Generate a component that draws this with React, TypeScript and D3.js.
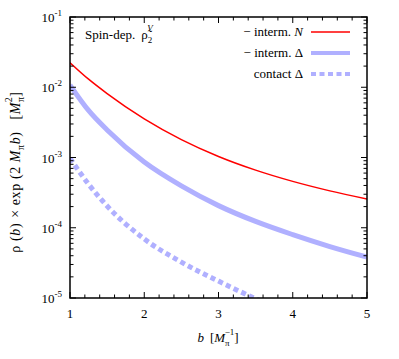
import React from "react";
import * as d3 from "d3";

const bN = [1, 1.25, 1.5, 2, 2.5, 3, 3.5, 4, 4.5, 5];
const interN = [0.02239, 0.01303, 0.008128, 0.003548, 0.001799, 0.001035, 0.000661, 0.000457, 0.000335, 0.000257];

const bD = [1, 1.25, 1.5, 2, 2.5, 3, 3.5, 4, 4.5, 5];
const interD = [0.01076, 0.004677, 0.002466, 0.000861, 0.000394, 0.0002065, 0.000123, 0.0000798, 0.000054, 0.0000382];

const bC = [1, 1.25, 1.5, 2, 2.5, 3, 3.5, 4];
const contactD = [0.000977, 0.000417, 0.000204, 0.0000692, 0.0000324, 0.0000174, 0.00000977, 0.00000589];

const xTicks = [1, 2, 3, 4, 5];
const yTicks = [1e-1, 1e-2, 1e-3, 1e-4, 1e-5];
const yTickExp = ["-1", "-2", "-3", "-4", "-5"];

const W = 399, H = 359;
const L = 70, R = 367, T = 17, B = 298;
const blue = "#b0b0ff";
const serif = "'Liberation Serif', 'DejaVu Serif', serif";

export default function App() {
  const x = d3.scaleLinear().domain([1, 5]).range([L, R]);
  const y = d3.scaleLog().domain([1e-5, 1e-1]).range([B, T]);

  const mk = (bs: number[], vs: number[]) =>
    d3.line<number>()
      .x((_, i) => x(bs[i]))
      .y((_, i) => y(vs[i]))
      .curve(d3.curveMonotoneX)(vs) || "";

  const xMinor = d3.range(1, 5.0001, 0.2).map((v) => +v.toFixed(2)).filter((v) => !xTicks.includes(v));
  const yMinor: number[] = [];
  for (let e = -5; e < -1; e++) for (let k = 2; k <= 9; k++) yMinor.push(k * Math.pow(10, e));

  return (
    <svg width={W} height={H} style={{ position: "absolute", left: 0, top: 0, background: "#fff" }} fontFamily={serif}>
      <defs>
        <clipPath id="plot">
          <rect x={L} y={T} width={R - L} height={B - T} />
        </clipPath>
      </defs>
      <g clipPath="url(#plot)" fill="none">
        <path d={mk(bC, contactD)} stroke={blue} strokeWidth={5} strokeDasharray="5,3.5" />
        <path d={mk(bD, interD)} stroke={blue} strokeWidth={5} />
        <path d={mk(bN, interN)} stroke="#ff0000" strokeWidth={1.5} />
      </g>
      <g stroke="#000" strokeWidth={1}>
        {xTicks.map((t) => (
          <g key={"xt" + t}>
            <line x1={x(t)} x2={x(t)} y1={B} y2={B - 6} />
            <line x1={x(t)} x2={x(t)} y1={T} y2={T + 6} />
          </g>
        ))}
        {xMinor.map((t) => (
          <g key={"xm" + t}>
            <line x1={x(t)} x2={x(t)} y1={B} y2={B - 3.5} />
            <line x1={x(t)} x2={x(t)} y1={T} y2={T + 3.5} />
          </g>
        ))}
        {yTicks.map((t) => (
          <g key={"yt" + t}>
            <line x1={L} x2={L + 6} y1={y(t)} y2={y(t)} />
            <line x1={R} x2={R - 6} y1={y(t)} y2={y(t)} />
          </g>
        ))}
        {yMinor.map((t) => (
          <g key={"ym" + t}>
            <line x1={L} x2={L + 3.5} y1={y(t)} y2={y(t)} />
            <line x1={R} x2={R - 3.5} y1={y(t)} y2={y(t)} />
          </g>
        ))}
      </g>
      <rect x={L} y={T} width={R - L} height={B - T} fill="none" stroke="#000" strokeWidth={1.5} />
      {xTicks.map((t) => (
        <text key={"xl" + t} x={x(t)} y={B + 20} fontSize={13} textAnchor="middle">{t}</text>
      ))}
      {yTicks.map((t, i) => (
        <text key={"yl" + t} x={L - 8} y={y(t) + 5} fontSize={13} textAnchor="end">
          10<tspan dy={-6} fontSize={9}>{yTickExp[i]}</tspan>
        </text>
      ))}
      <text x={218} y={342} fontSize={13} textAnchor="middle">
        <tspan fontStyle="italic">b</tspan>
        <tspan dx={6}>[</tspan>
        <tspan fontStyle="italic">M</tspan>
        <tspan dy={4} fontSize={9}>π</tspan>
        <tspan dy={-11} dx={-5} fontSize={9}>−1</tspan>
        <tspan dy={7}>]</tspan>
      </text>
      <text transform="translate(20,172) rotate(-90)" fontSize={14} textAnchor="middle" letterSpacing={0.6}>
        <tspan>ρ (</tspan>
        <tspan fontStyle="italic">b</tspan>
        <tspan>)</tspan>
        <tspan dx={5}>× exp (2</tspan>
        <tspan dx={4} fontStyle="italic">M</tspan>
        <tspan dy={4} fontSize={10}>π</tspan>
        <tspan dy={-4} fontStyle="italic">b</tspan>
        <tspan>)</tspan>
        <tspan dx={12}>[</tspan>
        <tspan fontStyle="italic">M</tspan>
        <tspan dy={4} fontSize={10}>π</tspan>
        <tspan dy={-12} dx={-6} fontSize={10}>2</tspan>
        <tspan dy={8}>]</tspan>
      </text>
      <text x={85} y={39} fontSize={13}>
        Spin-dep.
        <tspan dx={6}>ρ̃</tspan>
        <tspan dy={4} fontSize={9}>2</tspan>
        <tspan dy={-12} dx={-5} fontSize={9} fontStyle="italic">V</tspan>
      </text>
      <g fontSize={13} textAnchor="end">
        <text x={303} y={36}>− interm. <tspan fontStyle="italic">N</tspan></text>
        <text x={303} y={57}>− interm. Δ</text>
        <text x={303} y={78}>contact Δ</text>
      </g>
      <line x1={311} x2={350} y1={32} y2={32} stroke="#ff0000" strokeWidth={1.5} />
      <line x1={311} x2={350} y1={53} y2={53} stroke={blue} strokeWidth={4} />
      <line x1={311} x2={350} y1={74} y2={74} stroke={blue} strokeWidth={4} strokeDasharray="5,3.5" />
    </svg>
  );
}
